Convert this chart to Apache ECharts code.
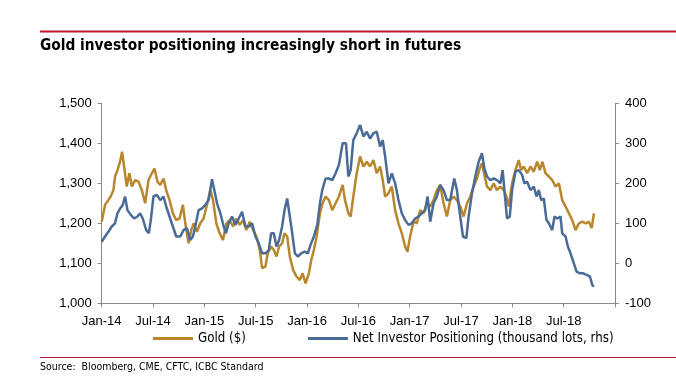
<!DOCTYPE html>
<html>
<head>
<meta charset="utf-8">
<script src="https://cdn.jsdelivr.net/npm/echarts@6/dist/echarts.min.js"></script>
<style>
  html, body { margin: 0; padding: 0; background: #fff; }
  #chart { width: 676px; height: 386px; }
</style>
</head>
<body>
<div id="chart"></div>
<script>
// x values are months since Jan 2014
const tickLabels = ['Jan-14','Jul-14','Jan-15','Jul-15','Jan-16','Jul-16','Jan-17','Jul-17','Jan-18','Jul-18',''];

const goldMonths = [0,0.39,0.78,1.05,1.37,1.56,1.84,2.15,2.38,2.62,2.93,3.24,3.52,3.91,4.30,4.69,5.08,5.47,5.86,6.17,6.52,6.84,7.23,7.54,7.93,8.32,8.71,9.10,9.49,9.77,10.16,10.47,10.74,11.13,11.52,11.91,12.30,12.70,13.01,13.40,13.79,14.18,14.57,14.96,15.35,15.74,16.13,16.52,16.91,17.30,17.70,18.09,18.48,18.75,19.14,19.41,19.80,20.12,20.43,20.74,21.09,21.37,21.68,21.99,22.38,22.77,23.16,23.48,23.83,24.22,24.49,24.80,25.12,25.51,25.82,26.17,26.56,26.95,27.34,27.73,
  28.16,28.44,28.83,29.10,29.41,29.81,30.20,30.59,30.98,31.37,31.76,32.15,32.54,32.85,33.13,33.52,33.91,34.30,34.69,35.08,35.47,35.74,36.05,36.45,36.84,37.23,37.62,38.01,38.40,38.79,39.18,39.57,39.96,40.35,40.74,41.13,41.52,41.91,42.30,42.70,43.09,43.48,43.87,44.18,44.45,44.73,45.04,45.43,45.82,46.21,46.60,46.99,47.30,47.58,47.97,48.36,48.75,49.02,49.34,49.73,50.12,50.51,50.90,51.21,51.52,51.88,52.27,52.66,53.05,53.44,53.83,54.22,54.61,55.00,55.39,55.78,56.17,56.56,56.95,57.27,57.54];
const goldPrice = [1204,1246,1258,1267,1283,1317,1333,1354,1379,1342,1292,1325,1292,1308,1304,1283,1250,1308,1325,1337,1304,1296,1312,1283,1258,1225,1208,1212,1246,1200,1150,1183,1200,1179,1200,1212,1246,1283,1258,1200,1175,1158,1200,1208,1192,1212,1196,1208,1183,1204,1183,1167,1133,1088,1092,1125,1142,1133,1117,1142,1150,1175,1167,1117,1083,1067,1058,1075,1050,1075,1108,1133,1167,1225,1250,1267,1258,1233,1250,1267,
  1296,1258,1225,1217,1267,1325,1367,1342,1354,1342,1358,1325,1342,1308,1267,1275,1292,1233,1200,1175,1142,1129,1167,1204,1200,1233,1225,1250,1242,1258,1283,1296,1250,1217,1258,1267,1258,1242,1217,1250,1267,1292,1312,1337,1350,1321,1292,1283,1300,1283,1292,1283,1267,1242,1300,1333,1358,1333,1342,1325,1342,1329,1354,1333,1354,1325,1317,1308,1292,1300,1258,1242,1225,1208,1183,1200,1204,1200,1204,1188,1225];

const netMonths = [0,0.39,0.78,1.17,1.56,1.84,2.15,2.46,2.73,3.01,3.40,3.79,4.18,4.49,4.80,5.20,5.51,5.74,6.05,6.45,6.84,7.23,7.54,7.93,8.32,8.71,9.18,9.57,9.96,10.35,10.66,10.94,11.33,11.72,12.11,12.50,12.89,13.16,13.48,13.87,14.26,14.53,14.84,15.23,15.63,16.02,16.41,16.80,17.19,17.58,17.97,18.36,18.75,19.14,19.53,19.80,20.12,20.43,20.74,21.09,21.37,21.68,21.99,22.27,22.58,22.93,23.32,23.71,24.10,24.41,24.80,25.20,25.51,25.78,26.17,26.56,26.95,27.34,27.73,
  28.16,28.56,28.83,29.10,29.41,29.81,30.20,30.59,30.98,31.37,31.76,32.15,32.54,32.85,33.13,33.52,33.91,34.30,34.69,35.08,35.47,35.86,36.25,36.64,37.03,37.42,37.81,38.09,38.40,38.79,39.18,39.57,39.96,40.35,40.74,41.21,41.52,41.91,42.23,42.62,42.89,43.28,43.67,44.06,44.45,44.73,45.04,45.43,45.82,46.21,46.60,46.87,47.07,47.38,47.70,47.97,48.36,48.75,49.14,49.41,49.73,50.12,50.51,50.82,51.09,51.37,51.68,51.99,52.27,52.66,52.93,53.24,53.63,53.83,54.22,54.49,54.80,55.19,55.51,55.90,56.29,56.68,57.07,57.34,57.54];
const netPositions = [54,67,79,92,100,125,137,146,167,133,121,112,117,125,112,83,75,108,167,171,158,167,142,117,92,67,67,83,88,58,67,92,133,137,146,158,210,183,150,125,92,75,100,117,96,112,129,92,92,100,67,50,25,25,33,75,75,42,58,92,133,162,117,75,25,17,25,29,25,46,67,96,150,183,212,212,208,225,246,
  300,300,217,233,308,325,346,317,329,312,325,329,292,308,267,200,225,200,158,125,108,96,100,112,117,125,133,167,104,150,167,196,183,158,158,212,183,117,67,63,117,175,217,254,275,237,217,208,212,208,200,233,183,112,117,183,229,233,221,200,204,183,192,167,183,158,162,108,100,83,117,112,117,75,67,42,25,0,-21,-25,-25,-29,-33,-54,-58];

const goldData = goldMonths.map((m, i) => [m, goldPrice[i]]);
const netData = netMonths.map((m, i) => [m, netPositions[i]]);

const GOLD = '#B8862B';
const BLUE = '#4A6B96';
const NARROW = '"DejaVu Sans Condensed", "Liberation Sans Narrow", sans-serif';
const SANS = '"Liberation Sans", Arial, sans-serif';

const chart = echarts.init(document.getElementById('chart'), null, { renderer: 'canvas' });
chart.setOption({
  animation: false,
  backgroundColor: '#fff',
  title: {
    text: 'Gold investor positioning increasingly short in futures',
    left: 40, top: 39, padding: 0,
    textStyle: { fontFamily: NARROW, fontWeight: 'bold', fontSize: 15.3, color: '#000' }
  },
  graphic: [
    { type: 'line', shape: { x1: 40, y1: 31.5, x2: 676, y2: 31.5 }, style: { stroke: '#C4122F', lineWidth: 2 } },
    { type: 'line', shape: { x1: 40, y1: 357.5, x2: 676, y2: 357.5 }, style: { stroke: '#B3182F', lineWidth: 1 } },
    { type: 'text', left: 40, top: 362, style: { text: 'Source:  Bloomberg, CME, CFTC, ICBC Standard', fontFamily: NARROW, fontSize: 10.5, fill: '#000' } }
  ],
  legend: {
    left: 153, top: 332, padding: 0,
    itemWidth: 40, itemHeight: 3, itemGap: 62,
    icon: 'rect',
    textStyle: { fontFamily: NARROW, fontSize: 13.2, color: '#000' },
    data: ['Gold ($)', 'Net Investor Positioning (thousand lots, rhs)']
  },
  grid: { left: 101.7, right: 61, top: 103.3, bottom: 82.7, containLabel: false },
  xAxis: {
    type: 'value', min: 0, max: 60, interval: 6,
    axisLine: { onZero: false, lineStyle: { color: '#888', width: 1 } },
    axisTick: { show: true, length: 4, lineStyle: { color: '#888' } },
    splitLine: { show: false },
    axisLabel: {
      margin: 12, fontFamily: SANS, fontSize: 13, color: '#000',
      formatter: v => tickLabels[Math.round(v / 6)] || ''
    }
  },
  yAxis: [
    {
      type: 'value', min: 1000, max: 1500, interval: 100, position: 'left',
      axisLine: { show: true, lineStyle: { color: '#888', width: 1 } },
      axisTick: { show: true, length: 4, lineStyle: { color: '#888' } },
      splitLine: { show: false },
      axisLabel: { margin: 10, fontFamily: SANS, fontSize: 13, color: '#000',
        formatter: v => v.toLocaleString('en-US') }
    },
    {
      type: 'value', min: -100, max: 400, interval: 100, position: 'right',
      axisLine: { show: true, lineStyle: { color: '#888', width: 1 } },
      axisTick: { show: true, length: 4, lineStyle: { color: '#888' } },
      splitLine: { show: false },
      axisLabel: { margin: 10, fontFamily: SANS, fontSize: 13, color: '#000' }
    }
  ],
  series: [
    {
      name: 'Gold ($)', type: 'line', yAxisIndex: 0, data: goldData,
      showSymbol: false, symbol: 'none', color: GOLD,
      lineStyle: { color: GOLD, width: 2.5 }
    },
    {
      name: 'Net Investor Positioning (thousand lots, rhs)', type: 'line', yAxisIndex: 1, data: netData,
      showSymbol: false, symbol: 'none', color: BLUE,
      lineStyle: { color: BLUE, width: 2.5 }
    }
  ]
});
</script>
</body>
</html>
